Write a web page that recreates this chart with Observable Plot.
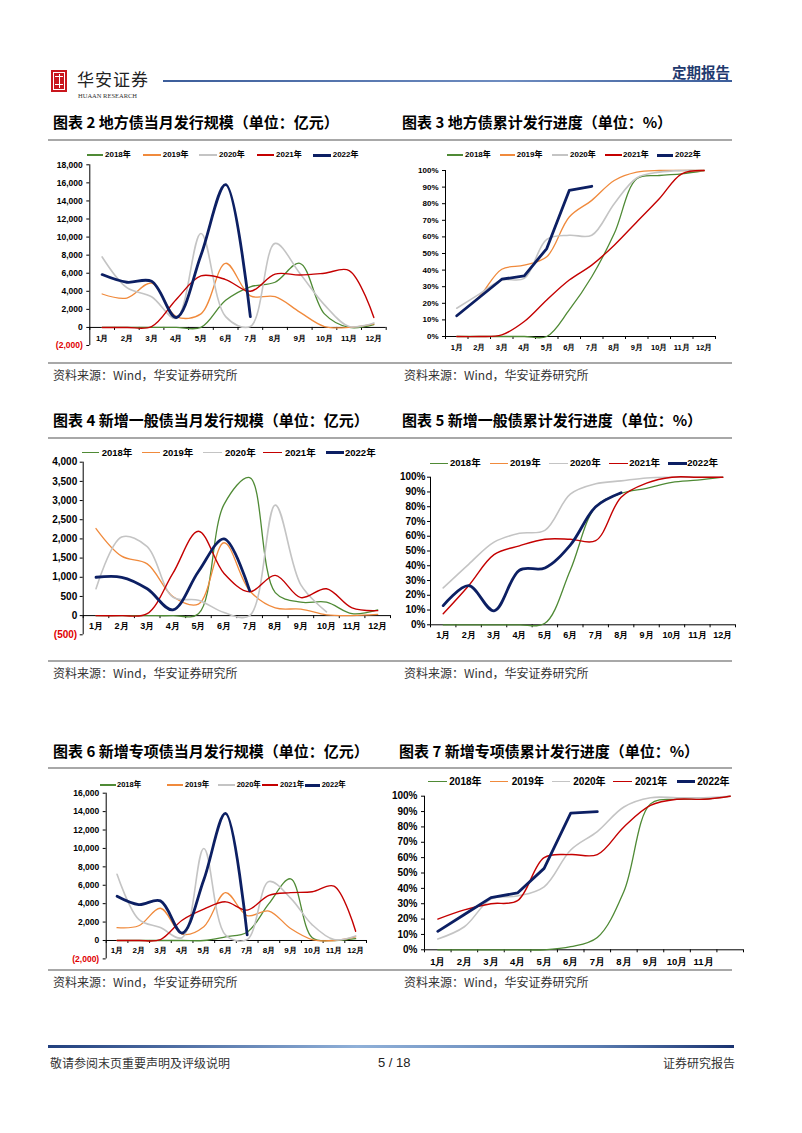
<!DOCTYPE html>
<html><head><meta charset="utf-8">
<script src="https://cdn.jsdelivr.net/npm/d3@7"></script>
<script src="https://cdn.jsdelivr.net/npm/@observablehq/plot@0.6"></script>
<style>
body{margin:0;background:#fff;}
#page{position:relative;width:802px;height:1133px;overflow:hidden;background:#fff;font-family:"Liberation Sans",Arial,sans-serif;}
.abs{position:absolute;white-space:nowrap;}
.title{font-family:"Noto Sans CJK SC",sans-serif;font-weight:bold;font-size:15px;line-height:20px;color:#000;}
.src{font-family:"Noto Sans CJK SC",sans-serif;font-size:12px;line-height:16px;color:#333;}
.sep{position:absolute;height:2px;background:#a8a8a8;left:48px;width:684px;}
.lg{position:absolute;font-family:"Liberation Sans","Noto Sans CJK SC",sans-serif;font-weight:bold;white-space:nowrap;color:#000;}
.sw{position:absolute;}
</style></head>
<body>
<div id="page">
  <!-- header -->
  <div class="abs" style="left:51px;top:70px;width:16px;height:22px;background:#c9161d;"></div>
  <div class="abs" style="left:53px;top:72px;width:10px;height:16px;border:1px solid #fff;"></div>
  <div class="abs" style="left:55px;top:76px;width:8px;height:1px;background:#fff;"></div>
  <div class="abs" style="left:55px;top:84px;width:8px;height:1px;background:#fff;"></div>
  <div class="abs" style="left:58.5px;top:74px;width:1px;height:14px;background:#fff;"></div>
  <div class="abs" style="left:77px;top:68px;font-family:'Noto Sans CJK SC';font-size:17px;line-height:22px;color:#222;letter-spacing:1px;">华安证券</div>
  <div class="abs" style="left:78px;top:92px;font-family:'Liberation Serif';font-size:6.5px;line-height:8px;color:#333;">HUAAN RESEARCH</div>
  <div class="abs" style="left:163px;top:80px;width:569px;height:1.5px;background:linear-gradient(to right,#3c5d9a,#6e8cc0 60%,#3c5d9a);"></div>
  <div class="abs" style="right:72px;top:62px;font-family:'Noto Sans CJK SC';font-weight:bold;font-size:14.5px;line-height:20px;color:#1f3a6e;">定期报告</div>

  <!-- row 1 -->
  <div class="abs title" style="left:53px;top:112px;">图表 2 地方债当月发行规模（单位：亿元）</div>
  <div class="abs title" style="left:402px;top:112px;">图表 3 地方债累计发行进度（单位：%）</div>
  <div class="sep" style="top:139px;"></div>
  <div class="sep" style="top:362px;"></div>
  <div class="abs src" style="left:53px;top:367px;">资料来源：Wind，华安证券研究所</div>
  <div class="abs src" style="left:404px;top:367px;">资料来源：Wind，华安证券研究所</div>

  <!-- row 2 -->
  <div class="abs title" style="left:53px;top:410px;">图表 4 新增一般债当月发行规模（单位：亿元）</div>
  <div class="abs title" style="left:402px;top:410px;">图表 5 新增一般债累计发行进度（单位：%）</div>
  <div class="sep" style="top:437px;"></div>
  <div class="sep" style="top:660px;"></div>
  <div class="abs src" style="left:53px;top:665px;">资料来源：Wind，华安证券研究所</div>
  <div class="abs src" style="left:404px;top:665px;">资料来源：Wind，华安证券研究所</div>

  <!-- row 3 -->
  <div class="abs title" style="left:53px;top:741px;">图表 6 新增专项债当月发行规模（单位：亿元）</div>
  <div class="abs title" style="left:399px;top:741px;">图表 7 新增专项债累计发行进度（单位：%）</div>
  <div class="sep" style="top:767px;"></div>
  <div class="sep" style="top:969px;"></div>
  <div class="abs src" style="left:53px;top:974px;">资料来源：Wind，华安证券研究所</div>
  <div class="abs src" style="left:404px;top:974px;">资料来源：Wind，华安证券研究所</div>

  <!-- footer -->
  <div class="abs" style="left:48px;top:1045px;width:686px;height:3px;background:linear-gradient(to right,#22407e 0%,#8fb0d8 45%,#5a7cb0 80%,#1a3370 100%);"></div>
  <div class="abs" style="left:50px;top:1055px;font-family:'Noto Sans CJK SC';font-size:12px;line-height:16px;color:#333;">敬请参阅末页重要声明及评级说明</div>
  <div class="abs" style="left:378px;top:1055px;font-family:'Liberation Sans';font-size:13px;line-height:16px;color:#222;">5 / 18</div>
  <div class="abs" style="right:67px;top:1055px;font-family:'Noto Sans CJK SC';font-size:12px;line-height:16px;color:#333;">证券研究报告</div>
</div>
<script>
// ---------- data ----------
const months = ["1月","2月","3月","4月","5月","6月","7月","8月","9月","10月","11月","12月"];
const monthsChart7 = ["1月","2月","3月","4月","5月","6月","7月","8月","9月","10月","11月",""];
const years = ["2018年","2019年","2020年","2021年","2022年"];

// 图表2 地方债当月发行规模（亿元）
const local_2018 = [0,0,0,0,0,3000,4500,5000,7100,1500,0,300];
const local_2019 = [3700,3250,4900,1200,1500,7100,3500,3400,1700,100,0,400];
const local_2020 = [7800,4400,3400,1000,10400,1200,100,9300,6000,2500,100,500];
const local_2021 = [0,0,100,3100,5700,5300,4000,5900,5800,6000,6300,1100];
const local_2022 = [5850,5000,5100,1100,8000,15800,1200];
const local_ticks = [-2000,0,2000,4000,6000,8000,10000,12000,14000,16000,18000];

// 图表3 地方债累计发行进度（%）
const localCum_2018 = [0,0,0,0,0,16,36,62,95,97,98,100];
const localCum_2019 = [12.5,24,40.5,43,48,72,82,94,99,100,100,100];
const localCum_2020 = [17,25.5,34,35,58.5,61,61,80,95.5,99,100,100];
const localCum_2021 = [0,0,1,9,22,34,43,55,69,83,98,100];
const localCum_2022 = [12.5,23.5,34.5,36.5,53,88,90.5];
const pct_ticks = [0,10,20,30,40,50,60,70,80,90,100];

// 图表4 新增一般债当月发行规模（亿元）
const gen_2018 = [0,0,0,0,50,2900,3600,600,350,350,50,150];
const gen_2019 = [2270,1550,1350,500,300,1900,650,200,170,20,0,30];
const gen_2020 = [700,2050,1800,480,400,80,0,2880,800,100];
const gen_2021 = [0,0,50,1100,2200,1100,620,1050,470,700,200,130];
const gen_2022 = [1000,1000,700,150,1150,2000,650];
const gen_ticks = [-500,0,500,1000,1500,2000,2500,3000,3500,4000];

// 图表5 新增一般债累计发行进度（%）
const genCum_2018 = [0,0,0,0,1,37,80,89,92.5,96.5,98,100];
const genCum_2019 = null;
const genCum_2020 = [25,41,56,62,64,88.5,95.5,97.5,99.5,100,100,100];
const genCum_2021 = [7.5,26.5,47.5,53.5,58,58,57,86.5,96,100,100,100];
const genCum_2022 = [13,26.5,9.5,37,38.5,54,80,89.5];

// 图表6 新增专项债当月发行规模（亿元）
const spec_2018 = [0,0,0,0,0,400,900,4000,6700,300,0,200];
const spec_2019 = [1400,1600,3500,700,1500,5200,2700,3200,1300,100,0,400];
const spec_2020 = [7200,2300,1400,300,10000,600,100,6400,4600,1700,100,500];
const spec_2021 = [0,0,100,2200,3400,4200,3300,4900,5200,5300,5900,1000];
const spec_2022 = [4800,3900,4300,800,6600,13800,600];
const spec_ticks = [-2000,0,2000,4000,6000,8000,10000,12000,14000,16000];

// 图表7 新增专项债累计发行进度（%）
const specCum_2018 = [0,0,0,0,0,2,8,38,95,98,98,100];
const specCum_2019 = null;
const specCum_2020 = [7,15,33,35,41,65,77,93,99,99,99,100];
const specCum_2021 = [20,26,30,32,60,62,62,80,94,98,98,100];
const specCum_2022 = [12,23,34,37,53,89,90];

// ---------- style ----------
const colors = ["#4f8a35","#f08a3c","#c4c4c4","#c40000","#0c1f63"];
const widths = [1.3,1.3,1.6,1.4,2.8];
const numFmt = d => d < 0 ? "(" + d3.format(",")(-d) + ")" : d3.format(",")(d);
const pctFmt = d => d + "%";

function chart(o) {
  const pxW = o.width - o.ml - o.mr, pxH = o.height - o.mt - o.mb;
  const yspan = o.yDomain[1] - o.yDomain[0];
  const tkY = 3 * yspan / pxH, tkX = 3 * 12 / pxW;
  const font = "Liberation Sans, Arial, sans-serif";
  const marks = [];
  const yTicksPos = o.yTicks.filter(d => d >= 0), yTicksNeg = o.yTicks.filter(d => d < 0);
  // axes
  marks.push(Plot.ruleX([0.5], {y1: o.yDomain[0], y2: o.yDomain[1], stroke: "#000", strokeWidth: 1}));
  marks.push(Plot.ruleY(o.yTicks, {y: d => d, x1: 0.5 - tkX, x2: 0.5, stroke: "#000", strokeWidth: 1}));
  marks.push(Plot.ruleY([0], {x1: 0.5, x2: 12.5, stroke: "#000", strokeWidth: 1}));
  marks.push(Plot.ruleX(d3.range(0.5, 12.6, 1), {x: d => d, y1: 0, y2: -tkY, stroke: "#000", strokeWidth: 1}));
  // series
  o.series.forEach((vals, k) => {
    if (!vals) return;
    const d = vals.map((v, i) => ({m: i + 1, v}));
    marks.push(Plot.line(d, {x: "m", y: "v", stroke: colors[k], strokeWidth: widths[k],
      curve: (k === 4 && o.linear22) ? "linear" : "catmull-rom", strokeLinejoin: "round", strokeLinecap: "round"}));
  });
  // tick labels
  marks.push(Plot.text(yTicksPos, {x: () => 0.5, y: d => d, text: o.yFmt, textAnchor: "end", dx: -o.ypad,
    fontSize: o.yfs, fontWeight: "bold", fontFamily: font, fill: "#000"}));
  if (yTicksNeg.length) marks.push(Plot.text(yTicksNeg, {x: () => 0.5, y: d => d, text: o.yFmt, textAnchor: "end", dx: -o.ypad,
    fontSize: o.yfs, fontWeight: "bold", fontFamily: font, fill: "#e00000"}));
  marks.push(Plot.text(o.xLabels, {x: (d, i) => i + 1, y: () => 0, text: d => d, dy: o.xdy,
    fontSize: o.xfs, fontWeight: "bold", fontFamily: font, fill: "#000"}));
  const svg = Plot.plot({
    width: o.width, height: o.height,
    marginLeft: o.ml, marginRight: o.mr, marginTop: o.mt, marginBottom: o.mb,
    x: {domain: [0.5, 12.5], axis: null},
    y: {domain: o.yDomain, axis: null},
    style: {background: "transparent", overflow: "visible"},
    marks
  });
  svg.style.position = "absolute";
  svg.style.left = o.left + "px";
  svg.style.top = o.top + "px";
  svg.style.maxWidth = "none";
  const page = document.getElementById("page");
  page.appendChild(svg);
  // legend
  o.legend.items.forEach((it, k) => {
    const sw = document.createElement("div");
    sw.className = "sw";
    const h = k === 4 ? 3 : 1.6;
    sw.style.cssText = `left:${it[0]}px;top:${o.legend.y - h / 2}px;width:${it[1] - it[0]}px;height:${h}px;background:${colors[k]};`;
    page.appendChild(sw);
    const t = document.createElement("div");
    t.className = "lg";
    t.textContent = years[k];
    t.style.cssText = `left:${it[2]}px;top:${o.legend.y - o.legend.fs * 0.65}px;font-size:${o.legend.fs}px;line-height:${o.legend.fs * 1.3}px;`;
    page.appendChild(t);
  });
}

// 图表2
chart({left: 0, top: 145, width: 400, height: 215, ml: 89.3, mr: 14.3, mt: 19.3, mb: 15,
  yDomain: [-2000, 18000], yTicks: local_ticks, yFmt: numFmt, yfs: 8.5, ypad: 7, xfs: 8, xdy: 11,
  xLabels: months, series: [local_2018, local_2019, local_2020, local_2021, local_2022], linear22: false,
  legend: {y: 155, fs: 8, items: [[86.7,103,105],[142.7,160.7,162.7],[199,217,219],[256.7,274,276],[313,330.7,332.7]]}});
// 图表3
chart({left: 400, top: 145, width: 402, height: 215, ml: 45, mr: 87, mt: 25, mb: 24,
  yDomain: [0, 100], yTicks: pct_ticks, yFmt: pctFmt, yfs: 8, ypad: 7, xfs: 7.5, xdy: 11.5,
  xLabels: months, series: [localCum_2018, localCum_2019, localCum_2020, localCum_2021, localCum_2022], linear22: true,
  legend: {y: 155, fs: 8, items: [[446.7,463.3,465],[500,515,516.7],[551.7,568,570],[605,621.7,623],[656.7,673,675]]}});
// 图表4
chart({left: 0, top: 445, width: 400, height: 200, ml: 82.7, mr: 10, mt: 16.7, mb: 10.7,
  yDomain: [-500, 4000], yTicks: gen_ticks, yFmt: numFmt, yfs: 10, ypad: 6, xfs: 9, xdy: 10,
  xLabels: months, series: [gen_2018, gen_2019, gen_2020, gen_2021, gen_2022], linear22: false,
  legend: {y: 452.7, fs: 9.5, items: [[81.7,99.3,101.7],[141.7,160,162.7],[203.3,221.7,225],[263.3,281.7,285],[326,344,345]]}});
// 图表5
chart({left: 400, top: 450, width: 402, height: 195, ml: 30, mr: 67, mt: 26.7, mb: 20.7,
  yDomain: [0, 100], yTicks: pct_ticks, yFmt: pctFmt, yfs: 10, ypad: 5, xfs: 9, xdy: 10,
  xLabels: months, series: [genCum_2018, genCum_2019, genCum_2020, genCum_2021, genCum_2022], linear22: false,
  legend: {y: 463.3, fs: 9.5, items: [[430,448.3,450],[490,508.3,510],[549.3,568.3,570],[609.3,627.7,629.3],[668.3,686.7,687.3]]}});
// 图表6
chart({left: 0, top: 775, width: 400, height: 195, ml: 105.7, mr: 34, mt: 17.7, mb: 11.6,
  yDomain: [-2000, 16000], yTicks: spec_ticks, yFmt: numFmt, yfs: 8.5, ypad: 7, xfs: 8, xdy: 9.5,
  xLabels: months, series: [spec_2018, spec_2019, spec_2020, spec_2021, spec_2022], linear22: false,
  legend: {y: 785, fs: 7.5, items: [[100,116,117],[166.7,183.3,185],[218,235,236.7],[262,278,280],[305,320,321.7]]}});
// 图表7
chart({left: 400, top: 775, width: 402, height: 200, ml: 24, mr: 59, mt: 20.7, mb: 25.7,
  yDomain: [0, 100], yTicks: pct_ticks, yFmt: pctFmt, yfs: 10, ypad: 7, xfs: 9.5, xdy: 12,
  xLabels: monthsChart7, series: [specCum_2018, specCum_2019, specCum_2020, specCum_2021, specCum_2022], linear22: true,
  legend: {y: 781.7, fs: 10, items: [[428.3,446.7,449.3],[490,508.3,511.7],[551.7,570,573.3],[613.3,631.7,635],[676.7,695,697.3]]}});
</script>
</body></html>
